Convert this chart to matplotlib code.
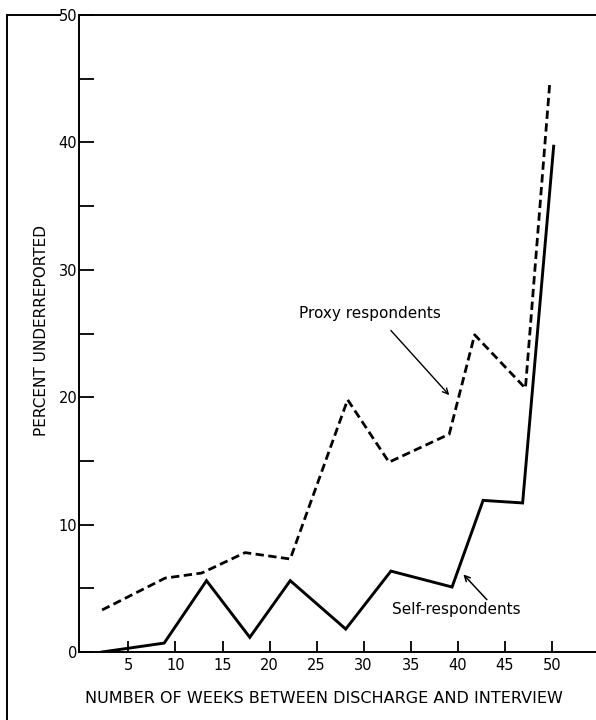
import matplotlib
matplotlib.use("Agg")
import matplotlib.pyplot as plt
from matplotlib.lines import Line2D
from matplotlib.ticker import MultipleLocator

# values
proxy_weeks = [2.2, 8.9, 12.8, 17.4, 22.2, 28.3, 32.7, 39.1, 41.8, 47.2, 49.8]
proxy_pct = [3.3, 5.8, 6.2, 7.8, 7.3, 19.8, 14.9, 17.1, 24.9, 20.7, 44.8]

self_weeks = [2.2, 8.8, 13.3, 17.9, 22.2, 28.1, 32.9, 39.4, 42.7, 46.9, 50.2]
self_pct = [0.0, 0.7, 5.6, 1.15, 5.6, 1.8, 6.35, 5.1, 11.9, 11.7, 39.7]

x_ticks = [5, 10, 15, 20, 25, 30, 35, 40, 45, 50]
y_ticks = [0, 10, 20, 30, 40, 50]

W, H = 596, 720
fig = plt.figure(figsize=(W / 100, H / 100), dpi=100)
ax = fig.add_axes([79.5 / W, (H - 652) / H, (W - 79.5) / W, 637 / H])

ax.plot(self_weeks, self_pct, color="black", lw=2.1, solid_joinstyle="miter")
ax.plot(proxy_weeks, proxy_pct, color="black", lw=2.0, dashes=(3, 1.6))

ax.set_xlim(-0.2, 54.7)
ax.set_ylim(0, 50)

ax.set_xticks(x_ticks)
ax.set_yticks(y_ticks)
ax.yaxis.set_minor_locator(MultipleLocator(5))
ax.tick_params(axis="x", direction="in", length=8, width=1.3, pad=4, labelsize=10.5)
ax.tick_params(axis="y", which="major", direction="in", length=11, width=1.3, pad=1.5, labelsize=10.5)
ax.tick_params(axis="y", which="minor", direction="in", length=11, width=1.3)

ax.spines["right"].set_visible(False)
for side in ["left", "bottom", "top"]:
    ax.spines[side].set_linewidth(1.4)

ax.set_xlabel("NUMBER OF WEEKS BETWEEN DISCHARGE AND INTERVIEW", fontsize=11.5)
ax.xaxis.set_label_coords(0.474, -0.061)
ax.set_ylabel("PERCENT UNDERREPORTED", fontsize=11)
ax.yaxis.set_label_coords(-0.060, 0.505)

# annotations
ax.text(23.1, 26.6, "Proxy respondents", fontsize=11, ha="left", va="center")
ax.annotate("", xy=(39.3, 20.0), xytext=(32.7, 25.4),
            arrowprops=dict(arrowstyle="->", lw=1.0, color="black"))
ax.text(33.0, 3.3, "Self-respondents", fontsize=11, ha="left", va="center")
ax.annotate("", xy=(40.4, 6.25), xytext=(43.3, 3.95),
            arrowprops=dict(arrowstyle="->", lw=1.1, color="black"))

# outer frame lines of the scanned page (broken where the "50" label sits)
top_y = (H - 15) / H
fig.add_artist(Line2D([7.3 / W, 59.5 / W], [top_y, top_y], color="black", lw=1.4))
fig.add_artist(Line2D([7.3 / W, 7.3 / W], [0.0, top_y], color="black", lw=1.4))

fig.savefig("out.png", dpi=100)
